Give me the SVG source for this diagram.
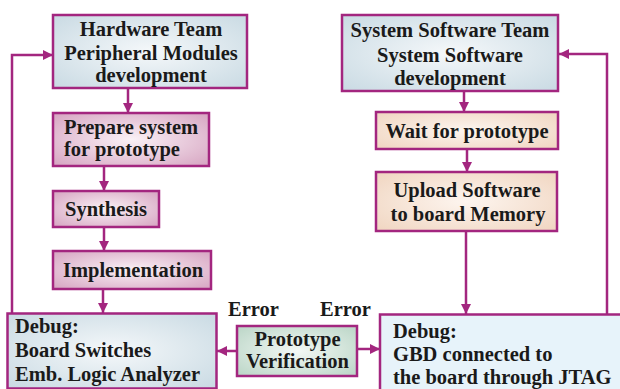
<svg xmlns="http://www.w3.org/2000/svg" width="620" height="389" viewBox="0 0 620 389">
  <style>
    .box { stroke: #a3267f; stroke-width: 2.5; }
    .lbl { font-family: "Liberation Serif", "Times New Roman", serif; font-weight: bold; font-size: 20.5px; fill: #1a1a1a; }
    .mid { text-anchor: middle; }
    .wire { fill: none; stroke: #a3267f; stroke-width: 2.5; marker-end: url(#head); }
  </style>
  <defs>
    <marker id="head" viewBox="0 0 10 10" refX="10" refY="5" markerWidth="10" markerHeight="10" markerUnits="userSpaceOnUse" orient="auto">
      <path d="M0,0 L10,5 L0,10 Z" fill="#a3267f"/>
    </marker>
    <radialGradient id="gBlue" cx="0.5" cy="0.5" r="0.7">
      <stop offset="0" stop-color="#f5f8fa"/>
      <stop offset="1" stop-color="#c9dae3"/>
    </radialGradient>
    <radialGradient id="gPink" cx="0.5" cy="0.5" r="0.7">
      <stop offset="0" stop-color="#faf1f6"/>
      <stop offset="1" stop-color="#d6a4c1"/>
    </radialGradient>
    <radialGradient id="gPeach" cx="0.5" cy="0.5" r="0.7">
      <stop offset="0" stop-color="#fdf5ef"/>
      <stop offset="1" stop-color="#f0d5c0"/>
    </radialGradient>
    <radialGradient id="gGreen" cx="0.5" cy="0.5" r="0.7">
      <stop offset="0" stop-color="#f3f8f5"/>
      <stop offset="1" stop-color="#bad5c6"/>
    </radialGradient>
  </defs>

  <!-- connectors -->
  <g id="connectors">
    <path class="wire" d="M128,89 V113"/>
    <path class="wire" d="M104,166 V191"/>
    <path class="wire" d="M104,227 V251"/>
    <path class="wire" d="M103,289 V313"/>
    <path class="wire" d="M12,313 V55 H53"/>
    <path class="wire" d="M464,91 V112"/>
    <path class="wire" d="M467,149 V172"/>
    <path class="wire" d="M466,231 V314"/>
    <path class="wire" d="M607,314 V54 H559"/>
    <path class="wire" d="M237,351 H217"/>
    <path class="wire" d="M357,349 H380"/>
  </g>

  <!-- hardware side -->
  <g id="hw-team">
    <rect class="box" x="53" y="15" width="194" height="73" fill="url(#gBlue)"/>
    <text class="lbl mid" x="151" y="36">Hardware Team</text>
    <text class="lbl mid" x="151" y="59.5">Peripheral Modules</text>
    <text class="lbl mid" x="151" y="82">development</text>
  </g>
  <g id="prepare">
    <rect class="box" x="53" y="113" width="156" height="53" fill="url(#gPink)"/>
    <text class="lbl" x="64" y="133.5">Prepare system</text>
    <text class="lbl" x="64" y="156">for prototype</text>
  </g>
  <g id="synthesis">
    <rect class="box" x="53" y="191" width="106" height="36" fill="url(#gPink)"/>
    <text class="lbl mid" x="106" y="215.5">Synthesis</text>
  </g>
  <g id="implementation">
    <rect class="box" x="53" y="251" width="158" height="38" fill="url(#gPink)"/>
    <text class="lbl mid" x="133" y="277">Implementation</text>
  </g>
  <g id="hw-debug">
    <rect class="box" x="7.5" y="313.5" width="209" height="75" fill="url(#gBlue)"/>
    <text class="lbl" x="15" y="332.5">Debug:</text>
    <text class="lbl" x="15" y="356.5">Board Switches</text>
    <text class="lbl" x="15" y="380.5">Emb. Logic Analyzer</text>
  </g>

  <!-- verification -->
  <g id="verification">
    <rect class="box" x="237" y="326" width="120" height="50" fill="url(#gGreen)"/>
    <text class="lbl mid" x="297.5" y="345.5">Prototype</text>
    <text class="lbl mid" x="297.5" y="368">Verification</text>
  </g>
  <g id="error-labels">
    <text class="lbl" x="228" y="316">Error</text>
    <text class="lbl" x="320" y="316">Error</text>
  </g>

  <!-- software side -->
  <g id="sw-team">
    <rect class="box" x="342" y="15" width="216" height="76" fill="url(#gBlue)"/>
    <text class="lbl mid" x="450" y="37">System Software Team</text>
    <text class="lbl mid" x="450" y="61.5">System Software</text>
    <text class="lbl mid" x="450" y="84.5">development</text>
  </g>
  <g id="wait">
    <rect class="box" x="376" y="112" width="182" height="37" fill="url(#gPeach)"/>
    <text class="lbl mid" x="467" y="138">Wait for prototype</text>
  </g>
  <g id="upload">
    <rect class="box" x="376" y="172" width="181" height="59" fill="url(#gPeach)"/>
    <text class="lbl mid" x="467" y="197">Upload Software</text>
    <text class="lbl mid" x="468" y="221">to board Memory</text>
  </g>
  <g id="sw-debug">
    <rect class="box" x="380" y="314.5" width="250" height="80" fill="#e7f3fa"/>
    <text class="lbl" x="393" y="337.5">Debug:</text>
    <text class="lbl" x="393" y="361">GBD connected to</text>
    <text class="lbl" x="393" y="384">the board through JTAG</text>
  </g>
</svg>
